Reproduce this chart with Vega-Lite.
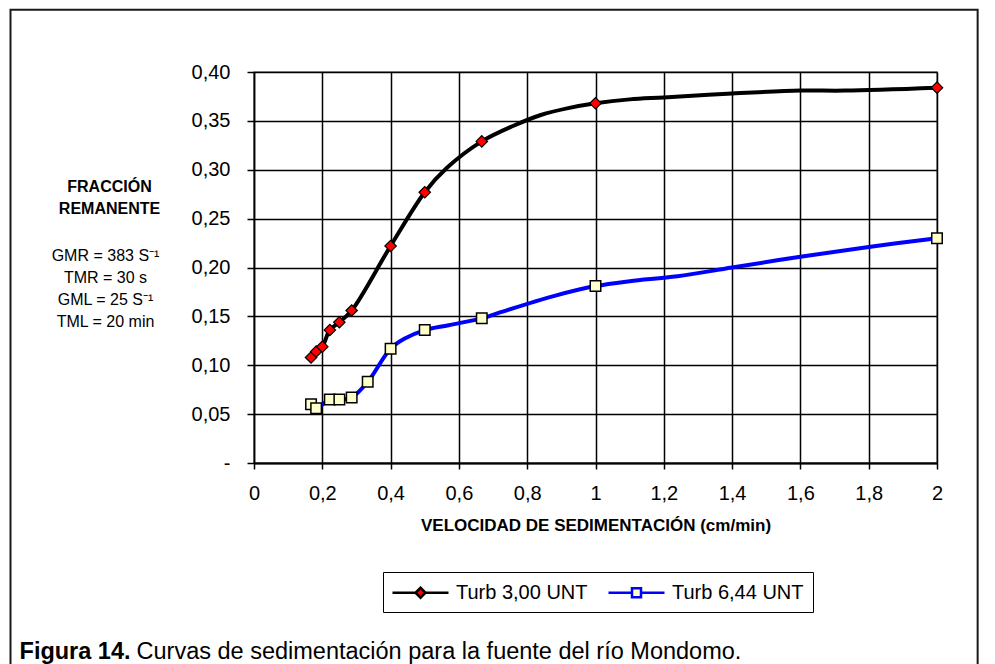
{
  "$schema": "https://vega.github.io/schema/vega-lite/v6.json",
  "width": 683,
  "height": 391,
  "autosize": "none",
  "padding": {"left": 254, "top": 72, "right": 58, "bottom": 201},
  "background": "white",
  "config": {
    "font": "Liberation Sans",
    "view": {"stroke": "#808080", "strokeWidth": 1.5},
    "axis": {"labelFont": "Liberation Sans", "titleFont": "Liberation Sans"}
  },
  "datasets": {
    "curvas": [
      {"serie": "Turb 3,00 UNT", "v": 0.167, "f": 0.108, "tipo": "medido"},
      {"serie": "Turb 3,00 UNT", "v": 0.182, "f": 0.114, "tipo": "medido"},
      {"serie": "Turb 3,00 UNT", "v": 0.2, "f": 0.119, "tipo": "medido"},
      {"serie": "Turb 3,00 UNT", "v": 0.222, "f": 0.136, "tipo": "medido"},
      {"serie": "Turb 3,00 UNT", "v": 0.25, "f": 0.144, "tipo": "medido"},
      {"serie": "Turb 3,00 UNT", "v": 0.286, "f": 0.156, "tipo": "medido"},
      {"serie": "Turb 3,00 UNT", "v": 0.4, "f": 0.222, "tipo": "medido"},
      {"serie": "Turb 3,00 UNT", "v": 0.5, "f": 0.277, "tipo": "medido"},
      {"serie": "Turb 3,00 UNT", "v": 0.565, "f": 0.302, "tipo": "curva"},
      {"serie": "Turb 3,00 UNT", "v": 0.667, "f": 0.329, "tipo": "medido"},
      {"serie": "Turb 3,00 UNT", "v": 0.76, "f": 0.345, "tipo": "curva"},
      {"serie": "Turb 3,00 UNT", "v": 0.84, "f": 0.356, "tipo": "curva"},
      {"serie": "Turb 3,00 UNT", "v": 0.92, "f": 0.363, "tipo": "curva"},
      {"serie": "Turb 3,00 UNT", "v": 1.0, "f": 0.368, "tipo": "medido"},
      {"serie": "Turb 3,00 UNT", "v": 1.1, "f": 0.372, "tipo": "curva"},
      {"serie": "Turb 3,00 UNT", "v": 1.2, "f": 0.374, "tipo": "curva"},
      {"serie": "Turb 3,00 UNT", "v": 1.4, "f": 0.378, "tipo": "curva"},
      {"serie": "Turb 3,00 UNT", "v": 1.6, "f": 0.381, "tipo": "curva"},
      {"serie": "Turb 3,00 UNT", "v": 1.73, "f": 0.381, "tipo": "curva"},
      {"serie": "Turb 3,00 UNT", "v": 2.0, "f": 0.384, "tipo": "medido"},
      {"serie": "Turb 6,44 UNT", "v": 0.167, "f": 0.060, "tipo": "medido"},
      {"serie": "Turb 6,44 UNT", "v": 0.182, "f": 0.056, "tipo": "medido"},
      {"serie": "Turb 6,44 UNT", "v": 0.222, "f": 0.065, "tipo": "medido"},
      {"serie": "Turb 6,44 UNT", "v": 0.25, "f": 0.065, "tipo": "medido"},
      {"serie": "Turb 6,44 UNT", "v": 0.286, "f": 0.067, "tipo": "medido"},
      {"serie": "Turb 6,44 UNT", "v": 0.333, "f": 0.083, "tipo": "medido"},
      {"serie": "Turb 6,44 UNT", "v": 0.4, "f": 0.117, "tipo": "medido"},
      {"serie": "Turb 6,44 UNT", "v": 0.44, "f": 0.127, "tipo": "curva"},
      {"serie": "Turb 6,44 UNT", "v": 0.5, "f": 0.136, "tipo": "medido"},
      {"serie": "Turb 6,44 UNT", "v": 0.57, "f": 0.141, "tipo": "curva"},
      {"serie": "Turb 6,44 UNT", "v": 0.667, "f": 0.148, "tipo": "medido"},
      {"serie": "Turb 6,44 UNT", "v": 0.72, "f": 0.154, "tipo": "curva"},
      {"serie": "Turb 6,44 UNT", "v": 0.88, "f": 0.171, "tipo": "curva"},
      {"serie": "Turb 6,44 UNT", "v": 1.0, "f": 0.181, "tipo": "medido"},
      {"serie": "Turb 6,44 UNT", "v": 1.1, "f": 0.186, "tipo": "curva"},
      {"serie": "Turb 6,44 UNT", "v": 1.24, "f": 0.191, "tipo": "curva"},
      {"serie": "Turb 6,44 UNT", "v": 1.4, "f": 0.200, "tipo": "curva"},
      {"serie": "Turb 6,44 UNT", "v": 1.6, "f": 0.211, "tipo": "curva"},
      {"serie": "Turb 6,44 UNT", "v": 1.8, "f": 0.221, "tipo": "curva"},
      {"serie": "Turb 6,44 UNT", "v": 2.0, "f": 0.230, "tipo": "medido"}
    ]
  },
  "layer": [
    {
      "data": {"values": [{}]},
      "mark": {"type": "rect", "fill": "transparent", "stroke": "#1a1a1a", "strokeWidth": 2, "clip": false},
      "encoding": {
        "x": {"datum": -0.713, "type": "quantitative", "scale": {"domain": [0, 2], "nice": false, "zero": false}},
        "x2": {"datum": 2.119},
        "y": {"datum": 0.4638, "type": "quantitative", "scale": {"domain": [0, 0.4], "nice": false, "zero": false}},
        "y2": {"datum": -0.215}
      }
    },
    {
      "data": {"values": [{}]},
      "mark": {"type": "text", "text": ["GMR = 383 S⁻¹", "TMR = 30 s", "GML = 25 S⁻¹", "TML = 20 min"], "lineHeight": 21.7, "fontSize": 16, "align": "center", "baseline": "alphabetic", "color": "#000", "font": "Liberation Sans"},
      "encoding": {
        "x": {"datum": -0.4348, "type": "quantitative"},
        "y": {"datum": 0.2062, "type": "quantitative"}
      }
    },
    {
      "data": {"values": [{}]},
      "mark": {"type": "text", "text": "Figura 14.", "fontSize": 23.5, "fontWeight": "bold", "align": "left", "baseline": "alphabetic", "color": "#000", "font": "Liberation Sans"},
      "encoding": {
        "x": {"datum": -0.6866, "type": "quantitative"},
        "y": {"datum": -0.2002, "type": "quantitative"}
      }
    },
    {
      "data": {"values": [{}]},
      "mark": {"type": "text", "text": "Curvas de sedimentación para la fuente del río Mondomo.", "fontSize": 23.5, "align": "left", "baseline": "alphabetic", "color": "#000", "font": "Liberation Sans"},
      "encoding": {
        "x": {"datum": -0.344, "type": "quantitative"},
        "y": {"datum": -0.2002, "type": "quantitative"}
      }
    },
    {
      "data": {"name": "curvas"},
      "mark": {"type": "line", "interpolate": "catmull-rom", "strokeWidth": 4},
      "encoding": {
        "x": {
          "field": "v", "type": "quantitative",
          "scale": {"domain": [0, 2], "nice": false, "zero": false},
          "axis": {
            "values": [0, 0.2, 0.4, 0.6, 0.8, 1, 1.2, 1.4, 1.6, 1.8, 2],
            "labelExpr": "replace(format(datum.value, '.1~f'), '.', ',')",
            "labelFontSize": 20, "labelColor": "#000", "labelPadding": 14, "labelFlush": false, "labelOverlap": false,
            "tickColor": "#000", "tickSize": 6, "tickWidth": 1.5,
            "domainColor": "#000", "domainWidth": 2,
            "grid": true, "gridColor": "#000", "gridWidth": 1.5,
            "title": "VELOCIDAD DE SEDIMENTACIÓN (cm/min)",
            "titleFontSize": 17, "titleFontWeight": "bold", "titleColor": "#000", "titlePadding": 14
          }
        },
        "y": {
          "field": "f", "type": "quantitative",
          "scale": {"domain": [0, 0.4], "nice": false, "zero": false},
          "axis": {
            "values": [0, 0.05, 0.1, 0.15, 0.2, 0.25, 0.3, 0.35, 0.4],
            "labelExpr": "datum.value == 0 ? '-' : replace(format(datum.value, '.2f'), '.', ',')",
            "labelFontSize": 20, "labelColor": "#000", "labelPadding": 17, "labelOverlap": false,
            "tickColor": "#000", "tickSize": 7, "tickWidth": 1.5,
            "domainColor": "#000", "domainWidth": 1.5,
            "grid": true, "gridColor": "#000", "gridWidth": 1.5,
            "title": ["FRACCIÓN", "REMANENTE"],
            "titleAngle": 0, "titleAlign": "center", "titleBaseline": "alphabetic",
            "titleX": -145, "titleY": 119.5, "titleLineHeight": 21.6,
            "titleFontSize": 16, "titleFontWeight": "bold", "titleColor": "#000"
          }
        },
        "color": {
          "field": "serie", "type": "nominal",
          "scale": {"domain": ["Turb 3,00 UNT", "Turb 6,44 UNT"], "range": ["#000000", "#0000ff"]},
          "legend": {
            "title": null, "orient": "none", "legendX": 129, "legendY": 500,
            "direction": "horizontal", "columns": 2, "columnPadding": 15,
            "strokeColor": "#000", "padding": 9,
            "labelFontSize": 20, "labelColor": "#000", "labelFont": "Liberation Sans", "labelOffset": 24,
            "symbolSize": 400, "symbolStrokeWidth": 2.5, "symbolOffset": 17,
            "encode": {
              "symbols": {
                "update": {
                  "shape": {"signal": "datum.value === 'Turb 3,00 UNT' ? 'M-2.8,0L-0.5,0M0.5,0L2.8,0M0,-0.5L0.5,0L0,0.5L-0.5,0Z' : 'M-2.8,0L-0.45,0M0.45,0L2.8,0M-0.45,-0.45L0.45,-0.45L0.45,0.45L-0.45,0.45Z'"},
                  "fill": {"signal": "datum.value === 'Turb 3,00 UNT' ? '#ff0000' : '#ffffcc'"},
                  "strokeWidth": {"value": 2.5}
                }
              }
            }
          }
        },
        "order": {"field": "v", "type": "quantitative"}
      }
    },
    {
      "data": {"name": "curvas"},
      "transform": [{"filter": "datum.tipo === 'medido' && datum.serie === 'Turb 3,00 UNT'"}],
      "mark": {"type": "point", "shape": "diamond", "filled": true, "fill": "#ff0000", "size": 130, "stroke": "#000", "strokeWidth": 1.2, "opacity": 1},
      "encoding": {
        "x": {"field": "v", "type": "quantitative", "scale": {"domain": [0, 2], "nice": false, "zero": false}},
        "y": {"field": "f", "type": "quantitative", "scale": {"domain": [0, 0.4], "nice": false, "zero": false}}
      }
    },
    {
      "data": {"name": "curvas"},
      "transform": [{"filter": "datum.tipo === 'medido' && datum.serie === 'Turb 6,44 UNT'"}],
      "mark": {"type": "point", "shape": "square", "filled": true, "fill": "#ffffcc", "size": 110, "stroke": "#000", "strokeWidth": 1.5, "opacity": 1},
      "encoding": {
        "x": {"field": "v", "type": "quantitative", "scale": {"domain": [0, 2], "nice": false, "zero": false}},
        "y": {"field": "f", "type": "quantitative", "scale": {"domain": [0, 0.4], "nice": false, "zero": false}}
      }
    }
  ]
}
